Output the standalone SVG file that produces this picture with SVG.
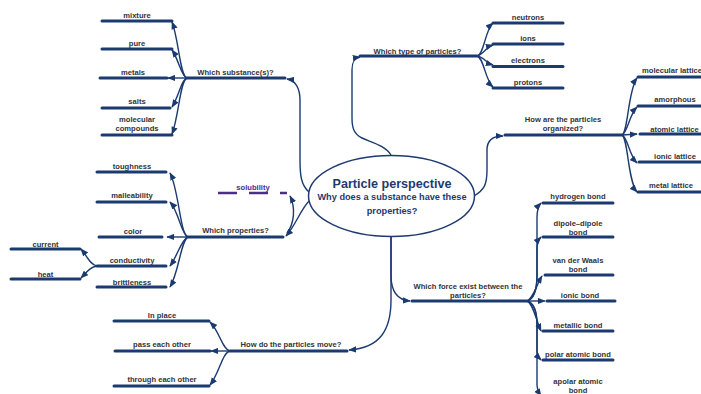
<svg xmlns="http://www.w3.org/2000/svg" width="701" height="394" viewBox="0 0 701 394">
  <defs>
    <marker id="ah" viewBox="0 0 10 8" refX="9" refY="4" markerWidth="8" markerHeight="7" orient="auto" markerUnits="userSpaceOnUse">
      <path d="M0,0 L10,4 L0,8 z" fill="#1b3a70"/>
    </marker>
    <style>
      .ln { stroke:#1b3a70; stroke-width:3; stroke-linecap:round; fill:none; }
      .cn { stroke:#1b3a70; stroke-width:1.4; fill:none; marker-end:url(#ah); }
      .t { font-family:"Liberation Sans", Arial, sans-serif; font-weight:bold; font-size:7.6px; fill:#333339; text-anchor:middle; }
      .hd { font-family:"Liberation Sans", Arial, sans-serif; font-weight:bold; fill:#1e3a70; text-anchor:middle; }
      .sol { stroke:#4b2d8a; stroke-width:2.5; stroke-dasharray:19 12; fill:none; }
    </style>
  </defs>
  <rect width="701" height="394" fill="#ffffff"/>

  <!-- connectors -->
  <g id="connectors">
    <!-- from the central topic -->
    <path class="cn" d="M309,192 C301,185 300,175 300,160 L300,100 C300,88 295,80 287,79"/>
    <path class="cn" d="M391,155 C385,145 370,142 362,138 C354,134 352,128 352,118 L352,70 C352,62 354,58 360,57"/>
    <path class="cn" d="M474,196 C484,190 487,185 487,170 L487,150 C487,140 493,136 503,136"/>
    <path class="cn" d="M391,237 L391,275 C391,290 396,300 410,301"/>
    <path class="cn" d="M391,237 L391,300 C391,330 380,348 349,350"/>
    <path class="cn" d="M310,200 C300,210 296,225 286,236"/>
    <path class="cn" d="M287,233 C294,224 296,208 290,196"/>

    <!-- substances -->
    <path class="cn" d="M187,78 C180,77 179,40 172,22"/>
    <path class="cn" d="M187,78 C181,76 179,60 172,50"/>
    <path class="cn" d="M187,78 L168,78"/>
    <path class="cn" d="M187,78 C181,80 179,96 172,107"/>
    <path class="cn" d="M187,78 C180,80 179,116 172,134"/>

    <!-- particle types -->
    <path class="cn" d="M477,56 C484,55 485,30 493,23"/>
    <path class="cn" d="M477,56 C484,54 486,47 493,45"/>
    <path class="cn" d="M477,56 C484,57 486,63 493,65"/>
    <path class="cn" d="M477,56 C484,58 485,80 493,87"/>

    <!-- organisation -->
    <path class="cn" d="M622,135 C628,133 628,90 637,78"/>
    <path class="cn" d="M622,135 C628,132 629,115 637,107"/>
    <path class="cn" d="M622,135 L637,134"/>
    <path class="cn" d="M622,135 C628,138 629,155 637,163"/>
    <path class="cn" d="M622,135 C628,138 628,182 637,192"/>

    <!-- forces -->
    <path class="cn" d="M527,301 C534,299 537,290 537,275 L537,218 C537,210 538,206 541,203"/>
    <path class="cn" d="M527,301 C534,299 537,290 537,275 L537,250 C537,243 538,240 541,237"/>
    <path class="cn" d="M527,301 C533,299 536,286 542,276"/>
    <path class="cn" d="M527,301 L545,301"/>
    <path class="cn" d="M527,301 C533,303 536,320 541,331"/>
    <path class="cn" d="M527,301 C534,303 537,312 537,325 L537,350 C537,355 539,358 541,360"/>
    <path class="cn" d="M527,301 C534,303 537,312 537,325 L537,385 C537,390 539,393 541,396"/>

    <!-- properties -->
    <path class="cn" d="M188,237 C180,235 179,190 170,173"/>
    <path class="cn" d="M188,237 C181,234 179,212 170,202"/>
    <path class="cn" d="M188,237 L167,237"/>
    <path class="cn" d="M188,237 C181,240 178,255 170,266"/>
    <path class="cn" d="M188,237 C181,240 179,272 170,287"/>
    <path class="cn" d="M97,266 C90,265 87,256 81,249"/>
    <path class="cn" d="M97,266 C90,267 87,272 81,278"/>

    <!-- movement -->
    <path class="cn" d="M230,351 C222,349 220,332 210,322"/>
    <path class="cn" d="M230,351 L211,351"/>
    <path class="cn" d="M230,351 C222,353 220,372 210,385"/>
  </g>

  <!-- central topic -->
  <g id="center">
    <ellipse cx="391.5" cy="196" rx="83" ry="40.5" fill="#ffffff" stroke="#1e3a70" stroke-width="1.5"/>
    <text class="hd" x="392" y="188" font-size="12.6">Particle perspective</text>
    <text class="hd" x="392" y="200" font-size="9.2">Why does a substance have these</text>
    <text class="hd" x="392" y="214" font-size="9.2">properties?</text>
  </g>

  <!-- which substance(s) -->
  <g id="substance">
    <path class="ln" d="M187,78 L285,78"/>
    <text class="t" x="235.5" y="75">Which substance(s)?</text>
  </g>
  <g id="mixture"><path class="ln" d="M102,21 L172,21"/><text class="t" x="137" y="17.5">mixture</text></g>
  <g id="pure"><path class="ln" d="M102,49 L172,49"/><text class="t" x="137" y="45.5">pure</text></g>
  <g id="metals"><path class="ln" d="M100,78 L167,78"/><text class="t" x="133" y="74.5">metals</text></g>
  <g id="salts"><path class="ln" d="M102,108 L170,108"/><text class="t" x="137" y="104">salts</text></g>
  <g id="molecular-compounds"><path class="ln" d="M102,135 L172,135"/><text class="t" x="137" y="122">molecular</text><text class="t" x="137" y="131">compounds</text></g>

  <!-- which type of particles -->
  <g id="particle-type">
    <path class="ln" d="M360,56 L477,56"/>
    <text class="t" x="417.5" y="53.5">Which type of particles?</text>
  </g>
  <g id="neutrons"><path class="ln" d="M493,23 L563,23"/><text class="t" x="528" y="19.7">neutrons</text></g>
  <g id="ions"><path class="ln" d="M493,44 L563,44"/><text class="t" x="528" y="41.4">ions</text></g>
  <g id="electrons"><path class="ln" d="M493,66.5 L563,66.5"/><text class="t" x="528" y="63">electrons</text></g>
  <g id="protons"><path class="ln" d="M493,88 L563,88"/><text class="t" x="528" y="84.7">protons</text></g>

  <!-- organisation -->
  <g id="organized">
    <path class="ln" d="M505,135 L622,135"/>
    <text class="t" x="563" y="122">How are the particles</text>
    <text class="t" x="563" y="131">organized?</text>
  </g>
  <g id="molecular-lattice"><path class="ln" d="M638,77 L703,77"/><text class="t" x="672" y="72.5">molecular lattice</text></g>
  <g id="amorphous"><path class="ln" d="M638,106 L703,106"/><text class="t" x="675" y="101.7">amorphous</text></g>
  <g id="atomic-lattice"><path class="ln" d="M640,134 L703,134"/><text class="t" x="674.5" y="131.5">atomic lattice</text></g>
  <g id="ionic-lattice"><path class="ln" d="M639,162 L703,162"/><text class="t" x="675" y="158.7">ionic lattice</text></g>
  <g id="metal-lattice"><path class="ln" d="M638,192 L703,192"/><text class="t" x="671" y="187.7">metal lattice</text></g>

  <!-- forces -->
  <g id="forces">
    <path class="ln" d="M412,301 L527,301"/>
    <text class="t" x="468" y="288.5">Which force exist between the</text>
    <text class="t" x="468" y="297.5">particles?</text>
  </g>
  <g id="hydrogen-bond"><path class="ln" d="M543,203 L613,203"/><text class="t" x="578" y="198.5">hydrogen bond</text></g>
  <g id="dipole-bond"><path class="ln" d="M543,237 L613,237"/><text class="t" x="578" y="225.5">dipole–dipole</text><text class="t" x="578" y="234.5">bond</text></g>
  <g id="vdw-bond"><path class="ln" d="M545,275 L613,275"/><text class="t" x="578" y="262.7">van der Waals</text><text class="t" x="578" y="271.7">bond</text></g>
  <g id="ionic-bond"><path class="ln" d="M547,301 L615,301"/><text class="t" x="580" y="297.7">ionic bond</text></g>
  <g id="metallic-bond"><path class="ln" d="M543,331 L613,331"/><text class="t" x="578" y="328.2">metallic bond</text></g>
  <g id="polar-bond"><path class="ln" d="M543,360 L613,360"/><text class="t" x="578" y="356.7">polar atomic bond</text></g>
  <g id="apolar-bond"><path class="ln" d="M543,397 L613,397"/><text class="t" x="578" y="383.7">apolar atomic</text><text class="t" x="578" y="392.7">bond</text></g>

  <!-- properties -->
  <g id="properties">
    <path class="ln" d="M188,237 L283,237"/>
    <text class="t" x="235.5" y="232.7">Which properties?</text>
  </g>
  <g id="solubility">
    <path class="sol" d="M218,193 L287,193"/>
    <text class="t" x="253" y="189.7" style="fill:#4b2d8a">solubility</text>
  </g>
  <g id="toughness"><path class="ln" d="M97,172 L166,172"/><text class="t" x="132" y="168.7">toughness</text></g>
  <g id="malleability"><path class="ln" d="M97,202 L166,202"/><text class="t" x="132" y="197.7">malleability</text></g>
  <g id="color"><path class="ln" d="M99,237 L162,237"/><text class="t" x="133" y="233.7">color</text></g>
  <g id="conductivity"><path class="ln" d="M97,266 L166,266"/><text class="t" x="132" y="262.7">conductivity</text></g>
  <g id="brittleness"><path class="ln" d="M97,287 L166,287"/><text class="t" x="132" y="284.5">brittleness</text></g>
  <g id="current"><path class="ln" d="M11,249 L80,249"/><text class="t" x="45.5" y="247">current</text></g>
  <g id="heat"><path class="ln" d="M11,279 L80,279"/><text class="t" x="45.5" y="276.7">heat</text></g>

  <!-- movement -->
  <g id="movement">
    <path class="ln" d="M230,351 L347,351"/>
    <text class="t" x="291" y="346.7">How do the particles move?</text>
  </g>
  <g id="in-place"><path class="ln" d="M114,321 L209,321"/><text class="t" x="162" y="317.7">In place</text></g>
  <g id="pass-each-other"><path class="ln" d="M115,351 L210,351"/><text class="t" x="162" y="346.7">pass each other</text></g>
  <g id="through-each-other"><path class="ln" d="M114,386 L209,386"/><text class="t" x="162" y="381.7">through each other</text></g>
</svg>
